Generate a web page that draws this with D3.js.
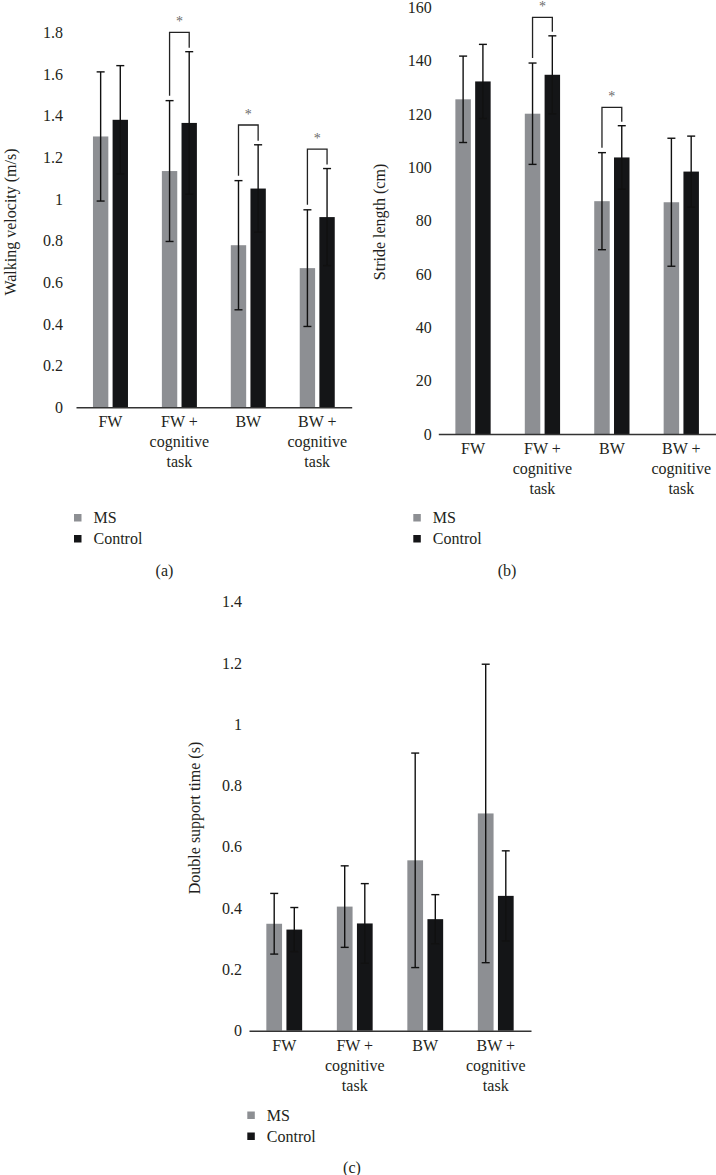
<!DOCTYPE html>
<html>
<head>
<meta charset="utf-8">
<script src="https://cdn.jsdelivr.net/npm/d3@7/dist/d3.min.js"></script>
<style>
  html, body { margin: 0; padding: 0; background: #fff; }
  svg { display: block; }
</style>
</head>
<body>
<svg id="chart" width="716" height="1175" font-family="Liberation Serif"></svg>
<script>
// ---------- DATA ----------
const categories = ["FW", "FW + cognitive task", "BW", "BW + cognitive task"];
const categoryLines = [["FW"], ["FW +", "cognitive", "task"], ["BW"], ["BW +", "cognitive", "task"]];
const seriesNames = ["MS", "Control"];

// (a) Walking velocity (m/s)
const velocityMS = [1.30, 1.134, 0.778, 0.668];
const velocityMSErr = [0.31, 0.338, 0.31, 0.28];
const velocityControl = [1.38, 1.365, 1.05, 0.913];
const velocityControlErr = [0.26, 0.342, 0.21, 0.233];
const velocityTicks = [0, 0.2, 0.4, 0.6, 0.8, 1, 1.2, 1.4, 1.6, 1.8];
const velocityTickLabels = ["0", "0.2", "0.4", "0.6", "0.8", "1", "1.2", "1.4", "1.6", "1.8"];
const velocitySigCats = ["FW + cognitive task", "BW", "BW + cognitive task"];
const velocitySigTop = [1.8, 1.355, 1.239];

// (b) Stride length (cm)
const strideMS = [125.5, 120.1, 87.3, 86.9];
const strideMSErr = [16.2, 19.0, 18.2, 24.0];
const strideControl = [132.2, 134.7, 103.7, 98.4];
const strideControlErr = [13.9, 14.6, 11.9, 13.3];
const strideTicks = [0, 20, 40, 60, 80, 100, 120, 140, 160];
const strideTickLabels = ["0", "20", "40", "60", "80", "100", "120", "140", "160"];
const strideSigCats = ["FW + cognitive task", "BW"];
const strideSigTop = [156.2, 122.5];

// (c) Double support time (s)
const dstMS = [0.349, 0.405, 0.556, 0.709];
const dstMSErr = [0.099, 0.133, 0.35, 0.487];
const dstControl = [0.330, 0.350, 0.364, 0.440];
const dstControlErr = [0.072, 0.13, 0.08, 0.147];
const dstTicks = [0, 0.2, 0.4, 0.6, 0.8, 1, 1.2, 1.4];
const dstTickLabels = ["0", "0.2", "0.4", "0.6", "0.8", "1", "1.2", "1.4"];
const dstSigCats = [];
const dstSigTop = [];

// ---------- STYLE ----------
const FONT = "Liberation Serif";
const TEXT = "#231f20";
const colors = { "MS": "#8d8f93", "Control": "#141517" };
const svg = d3.select("#chart");

function styleText(sel, size) {
  return sel.style("font-family", FONT).style("font-size", size + "px").style("fill", TEXT);
}

function drawPanel(cfg) {
  const g = svg.append("g");
  const x = d3.scaleBand().domain(categories).range([cfg.x0, cfg.x1]).padding(0);
  const xi = d3.scaleBand().domain(seriesNames).range([0, x.bandwidth()])
    .paddingInner(0.2175).paddingOuter(0.863);
  const y = d3.scaleLinear().domain([0, cfg.max]).range([cfg.yBase, cfg.yTop]);

  const rows = [];
  categories.forEach((c, i) => {
    rows.push({ cat: c, s: "MS", v: cfg.ms[i], e: cfg.msErr[i] });
    rows.push({ cat: c, s: "Control", v: cfg.ctrl[i], e: cfg.ctrlErr[i] });
  });

  // bars
  g.selectAll("rect.bar").data(rows).join("rect")
    .attr("class", "bar")
    .attr("x", d => x(d.cat) + xi(d.s))
    .attr("y", d => y(d.v))
    .attr("width", xi.bandwidth())
    .attr("height", d => y(0) - y(d.v))
    .attr("fill", d => colors[d.s]);

  // error bars
  const cx = d => x(d.cat) + xi(d.s) + xi.bandwidth() / 2;
  const eg = g.append("g").attr("stroke", "#111").attr("stroke-width", 1.4).attr("fill", "none");
  eg.selectAll("line.v").data(rows).join("line")
    .attr("x1", cx).attr("x2", cx)
    .attr("y1", d => y(d.v + d.e)).attr("y2", d => y(d.v - d.e));
  eg.selectAll("line.t").data(rows).join("line")
    .attr("x1", d => cx(d) - 4).attr("x2", d => cx(d) + 4)
    .attr("y1", d => y(d.v + d.e)).attr("y2", d => y(d.v + d.e));
  eg.selectAll("line.b").data(rows).join("line")
    .attr("x1", d => cx(d) - 4).attr("x2", d => cx(d) + 4)
    .attr("y1", d => y(d.v - d.e)).attr("y2", d => y(d.v - d.e));

  // significance brackets
  cfg.sigCats.forEach((c, k) => {
    const i = categories.indexOf(c);
    const xl = x(c) + xi("MS") + xi.bandwidth() / 2;
    const xr = x(c) + xi("Control") + xi.bandwidth() / 2;
    const yt = y(cfg.sigTop[k]);
    const yl = y(cfg.ms[i] + cfg.msErr[i]) - 5;
    const yr = y(cfg.ctrl[i] + cfg.ctrlErr[i]) - 4;
    g.append("path")
      .attr("d", `M${xl},${yl}V${yt}H${xr}V${yr}`)
      .attr("fill", "none").attr("stroke", "#222").attr("stroke-width", 1.3);
    styleText(g.append("text"), 14)
      .attr("x", (xl + xr) / 2).attr("y", yt - 13 + 7)
      .attr("text-anchor", "middle").style("fill", "#6a6a6a").text("*");
  });

  // x axis
  const xAxis = g.append("g").attr("transform", `translate(0,${cfg.yBase})`)
    .call(d3.axisBottom(x).tickSize(0).tickSizeOuter(0).tickFormat(""));
  xAxis.attr("font-family", FONT);
  xAxis.select(".domain").attr("stroke", "#333").attr("stroke-width", 1.4);
  xAxis.selectAll(".tick").each(function (d) {
    const lines = categoryLines[categories.indexOf(d)];
    const t = styleText(d3.select(this).append("text"), 16).attr("text-anchor", "middle");
    lines.forEach((ln, j) => {
      t.append("tspan").attr("x", 0).attr("y", 14.5 + j * 20).attr("dy", "0.35em").text(ln);
    });
  });

  // y axis
  const yAxis = g.append("g").attr("transform", `translate(${cfg.x0},0)`)
    .call(d3.axisLeft(y).tickValues(cfg.ticks).tickSize(0).tickPadding(cfg.tickPad)
      .tickFormat((d, i) => cfg.tickLabels[i]));
  yAxis.attr("font-family", FONT);
  yAxis.select(".domain").remove();
  styleText(yAxis.selectAll(".tick text"), 16);

  // y title
  styleText(g.append("text"), 16)
    .attr("transform", `translate(${cfg.titleX},${cfg.titleY}) rotate(-90)`)
    .attr("text-anchor", "middle").attr("dy", "0.35em")
    .text(cfg.title);

  // legend
  seriesNames.forEach((s, j) => {
    const ly = cfg.legY + j * 21;
    g.append("rect").attr("x", cfg.legX).attr("y", ly - 3.5).attr("width", 7.5).attr("height", 7.5)
      .attr("fill", colors[s]);
    styleText(g.append("text"), 16)
      .attr("x", cfg.legX + 19.5).attr("y", ly).attr("dy", "0.35em").text(s);
  });

  // panel label
  styleText(g.append("text"), 16)
    .attr("x", cfg.labX).attr("y", cfg.labY).attr("dy", "0.35em")
    .attr("text-anchor", "middle").text(cfg.label);
}

drawPanel({
  x0: 76, x1: 351.7, yBase: 407.3, yTop: 32.3, max: 1.8,
  ms: velocityMS, msErr: velocityMSErr, ctrl: velocityControl, ctrlErr: velocityControlErr,
  ticks: velocityTicks, tickLabels: velocityTickLabels, tickPad: 13,
  sigCats: velocitySigCats, sigTop: velocitySigTop,
  title: "Walking velocity (m/s)", titleX: 10, titleY: 222,
  legX: 74, legY: 517.5, label: "(a)", labX: 164.5, labY: 570
});

drawPanel({
  x0: 438.3, x1: 716, yBase: 434, yTop: 7.3, max: 160,
  ms: strideMS, msErr: strideMSErr, ctrl: strideControl, ctrlErr: strideControlErr,
  ticks: strideTicks, tickLabels: strideTickLabels, tickPad: 6.5,
  sigCats: strideSigCats, sigTop: strideSigTop,
  title: "Stride length (cm)", titleX: 379, titleY: 222,
  legX: 413.3, legY: 517.5, label: "(b)", labX: 507, labY: 570
});

drawPanel({
  x0: 249, x1: 531, yBase: 1030.7, yTop: 601.7, max: 1.4,
  ms: dstMS, msErr: dstMSErr, ctrl: dstControl, ctrlErr: dstControlErr,
  ticks: dstTicks, tickLabels: dstTickLabels, tickPad: 7,
  sigCats: dstSigCats, sigTop: dstSigTop,
  title: "Double support time (s)", titleX: 194, titleY: 818,
  legX: 247.3, legY: 1115, label: "(c)", labX: 352, labY: 1167
});
</script>
</body>
</html>
